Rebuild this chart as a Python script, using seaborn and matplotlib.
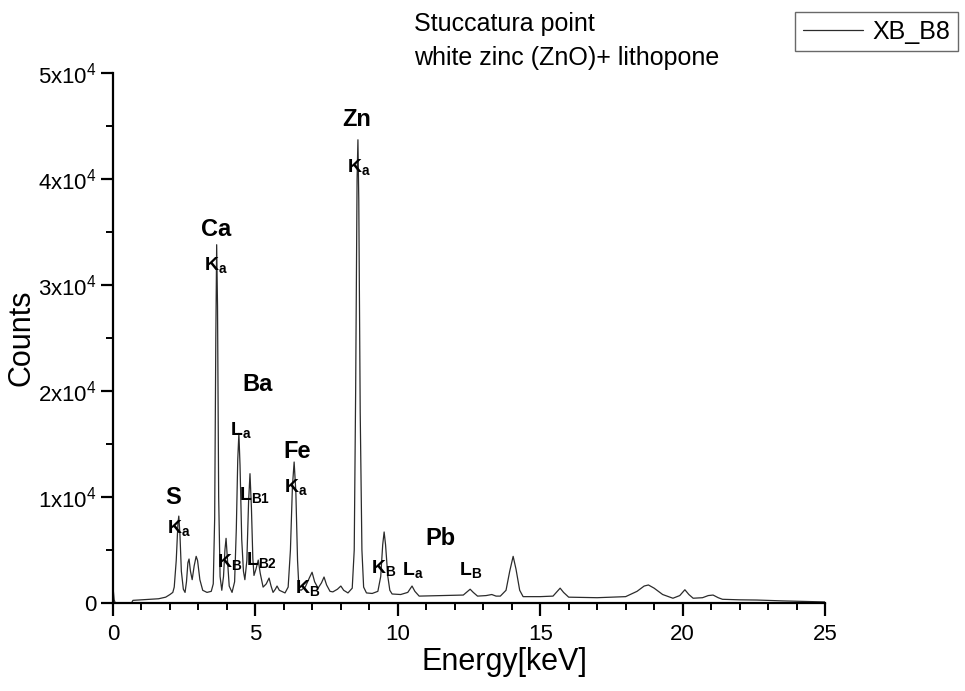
import numpy as np
import pandas as pd
import matplotlib
matplotlib.use("Agg")
import matplotlib.pyplot as plt
import matplotlib.transforms as mtransforms
import seaborn as sns
from matplotlib.ticker import MultipleLocator, FixedLocator

# ---------------- data ----------------
energy = [0.0, 0.04, 0.08, 0.65, 0.7, 1.0, 1.3, 1.6, 1.85, 2.0, 2.1,
          2.15, 2.22, 2.28, 2.31, 2.35, 2.4, 2.47, 2.53, 2.58, 2.63, 2.67, 2.72, 2.78,
          2.85, 2.92, 2.97, 3.05, 3.15, 3.3, 3.45, 3.52, 3.57, 3.61, 3.64, 3.67, 3.71,
          3.76, 3.82, 3.88, 3.93, 3.97, 4.02, 4.08, 4.18, 4.27, 4.33, 4.38, 4.42, 4.46,
          4.52, 4.58, 4.63, 4.7, 4.76, 4.81, 4.86, 4.91, 4.95, 5.02, 5.1, 5.17, 5.27,
          5.38, 5.48, 5.55, 5.62, 5.7, 5.76, 5.84, 6.04, 6.15, 6.23, 6.3, 6.36, 6.42,
          6.48, 6.53, 6.6, 6.75, 6.9, 6.99, 7.08, 7.2, 7.32, 7.41, 7.5, 7.62, 7.72,
          7.88, 8.0, 8.1, 8.25, 8.4, 8.47, 8.52, 8.57, 8.6, 8.63, 8.68, 8.74, 8.8, 8.9,
          9.1, 9.3, 9.4, 9.47, 9.52, 9.57, 9.65, 9.72, 9.8, 10.1, 10.35, 10.5, 10.6,
          10.75, 11.5, 12.3, 12.45, 12.54, 12.65, 12.8, 13.1, 13.3, 13.45, 13.6, 13.8,
          13.93, 14.05, 14.15, 14.28, 14.4, 15.0, 15.45, 15.6, 15.7, 15.82, 16.0, 17.0,
          18.0, 18.4, 18.65, 18.8, 19.0, 19.3, 19.66, 19.9, 20.08, 20.22, 20.37, 20.7,
          20.9, 21.07, 21.25, 21.4, 22.0, 22.6, 23.5, 24.3, 25.0]
counts = [1500, 300, 0, 0, 250, 300, 350, 400, 550, 800, 1000,
          1500, 4000, 7500, 8200, 6500, 3000, 1300, 1000, 2000, 3800, 4150, 3000, 2200,
          3500, 4400, 4000, 2200, 1200, 1000, 1100, 1800, 8000, 25000, 33800, 28000, 10000,
          2500, 1200, 2500, 5000, 6100, 4000, 1600, 1000, 2000, 7000, 13500, 16000, 13000,
          6000, 3000, 2200, 4000, 9500, 12200, 9000, 4200, 2600, 3200, 4050, 2800, 1500,
          1800, 2350, 1600, 1000, 1300, 1600, 1200, 950, 1500, 5000, 11000, 13300, 10500,
          4000, 1300, 1200, 1500, 2400, 2900, 2000, 1400, 1900, 2450, 1700, 1100, 1050,
          1300, 1600, 1200, 950, 1400, 5000, 20000, 40000, 43700, 38000, 18000, 5000, 1500, 950,
          900, 1100, 2500, 5500, 6700, 5500, 2500, 1200, 850, 800, 1000, 1600, 1100,
          650, 700, 750, 1100, 1300, 1000, 650, 700, 800, 650, 650, 1200,
          3000, 4400, 3200, 1200, 600, 600, 650, 1100, 1400, 1000, 550, 500,
          600, 1100, 1600, 1700, 1400, 800, 450, 700, 1250, 800, 450, 500,
          700, 750, 500, 350, 300, 280, 200, 150, 100]

series_name = "XB_B8"
x_ticks = [0, 5, 10, 15, 20, 25]
y_ticks = [0, 10000, 20000, 30000, 40000, 50000]
y_tick_labels = ["0", "1x10$^4$", "2x10$^4$", "3x10$^4$", "4x10$^4$", "5x10$^4$"]

# element names (energy, counts)
elements = ["S", "Ca", "Ba", "Fe", "Zn", "Pb"]
element_x = [2.11, 3.62, 5.09, 6.46, 8.57, 11.48]
element_y = [10000, 35190, 20570, 14250, 45660, 6040]

# line labels: (letter, subscript, energy, counts)
line_letters = ["K", "K", "K", "L", "L", "L", "K", "K", "K", "K", "L", "L"]
line_subs = ["a", "a", "B", "a", "B1", "B2", "a", "B", "a", "B", "a", "B"]
line_x = [2.18, 3.48, 3.93, 4.39, 4.70, 4.95, 6.29, 6.67, 8.50, 9.34, 10.43, 12.43]
line_y = [7075, 31890, 3870, 16320, 10190, 4060, 10940, 1415, 41130, 3300, 3110, 3110]

title_lines = ["Stuccatura point", "white zinc (ZnO)+ lithopone"]

# ---------------- styling ----------------
sns.set_style("ticks")
plt.rcParams["font.family"] = ["Liberation Sans", "DejaVu Sans"]
plt.rcParams["mathtext.fontset"] = "custom"
plt.rcParams["mathtext.rm"] = "Liberation Sans"
plt.rcParams["mathtext.it"] = "Liberation Sans:italic"
plt.rcParams["mathtext.bf"] = "Liberation Sans:bold"
plt.rcParams["text.color"] = "black"
plt.rcParams["axes.labelcolor"] = "black"

W, H = 965, 691
fig = plt.figure(figsize=(W / 100, H / 100), dpi=100)
ax = fig.add_axes([113 / W, 1 - 603 / H, (825 - 113) / W, (603 - 73) / H])

df = pd.DataFrame({"Energy": energy, "Counts": counts, "series": series_name})
sns.lineplot(data=df, x="Energy", y="Counts", hue="series", palette=["#2b2b2b"],
             sort=False, estimator=None, linewidth=0.9, ax=ax)

ax.set_xlim(0, 25)
ax.set_ylim(0, 50000)
ax.xaxis.set_major_locator(FixedLocator(x_ticks))
ax.xaxis.set_minor_locator(MultipleLocator(1))
ax.yaxis.set_major_locator(FixedLocator(y_ticks))
ax.yaxis.set_minor_locator(MultipleLocator(5000))
ax.set_yticklabels(y_tick_labels)
ax.set_xticklabels([str(t) for t in x_ticks])

for s in ["top", "right"]:
    ax.spines[s].set_visible(False)
for s in ["left", "bottom"]:
    ax.spines[s].set_linewidth(1.6)
    ax.spines[s].set_color("black")
ax.tick_params(which="major", direction="out", length=9, width=1.6, labelsize=16,
               colors="black")
ax.tick_params(axis="x", which="major", pad=6)
ax.tick_params(axis="y", which="major", pad=3)
ax.tick_params(which="minor", direction="out", length=5, width=1.4, colors="black")

ax.set_xlabel("Energy[keV]", fontsize=22)
ax.set_ylabel("Counts", fontsize=22)
ax.xaxis.set_label_coords((504 - 113) / (825 - 113), -0.083)
ax.yaxis.set_label_coords(-0.108, 0.5)

# element labels
for name, ex, ey in zip(elements, element_x, element_y):
    ax.text(ex, ey, name, fontsize=17, fontweight="bold", ha="center", va="center",
            color="black")
shift = mtransforms.ScaledTranslation(-6 / 72, 0, fig.dpi_scale_trans)
for let, sub, lx, ly in zip(line_letters, line_subs, line_x, line_y):
    ax.text(lx, ly, r"$\mathbf{%s}_{\mathbf{%s}}$" % (let, sub), fontsize=14,
            ha="left", va="center", color="black", transform=ax.transData + shift)

# title text (two lines)
fig.text(414 / W, 1 - 31 / H, title_lines[0], fontsize=18, ha="left", va="baseline")
fig.text(414 / W, 1 - 65 / H, title_lines[1], fontsize=18, ha="left", va="baseline")

# legend
leg = ax.legend(loc="upper right", bbox_to_anchor=(958 / W, 1 - 12 / H),
                bbox_transform=fig.transFigure, borderaxespad=0, fontsize=18,
                frameon=True, fancybox=False, edgecolor="#444444", handlelength=2.4,
                handletextpad=0.4, borderpad=0.3, title=None)
leg.get_frame().set_linewidth(1.0)
for t in leg.get_texts():
    t.set_text(series_name)
    t.set_color("black")

fig.savefig("out.png", dpi=100)
